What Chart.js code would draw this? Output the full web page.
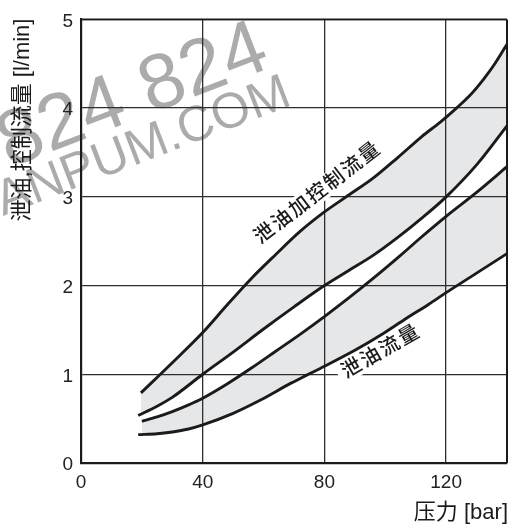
<!DOCTYPE html>
<html>
<head>
<meta charset="utf-8">
<script src="https://cdn.jsdelivr.net/npm/chart.js@4/dist/chart.umd.min.js"></script>
<style>
  html, body { margin: 0; padding: 0; background: #ffffff; }
  #wrap { width: 513px; height: 527px; }
</style>
</head>
<body>
<div id="wrap"><canvas id="chart" width="513" height="527"></canvas></div>
<script>
// Pressure [bar] vs. flow [l/min] for the four boundary curves
const pressureUpper1 = [19.7, 30, 40, 48, 56, 64, 72, 80, 88, 96, 104, 112, 118, 123.4, 128, 132.4, 136, 140];
const flowUpper1     = [0.79, 1.13, 1.47, 1.78, 2.08, 2.35, 2.61, 2.83, 3.02, 3.21, 3.44, 3.68, 3.84, 4.0, 4.15, 4.33, 4.5, 4.72];

const pressureUpper2 = [18.8, 25, 30, 40, 50, 60, 70, 80, 88, 96, 104, 112, 120, 130, 140];
const flowUpper2     = [0.535, 0.64, 0.74, 1.0, 1.25, 1.51, 1.76, 2.0, 2.17, 2.34, 2.54, 2.76, 3.0, 3.36, 3.8];

const pressureLower1 = [20, 25, 30, 35, 40, 48, 56, 64, 72, 80, 88, 96, 105, 112, 120, 130, 140];
const flowLower1     = [0.47, 0.52, 0.58, 0.65, 0.73, 0.89, 1.07, 1.26, 1.45, 1.65, 1.86, 2.08, 2.34, 2.55, 2.78, 3.05, 3.34];

const pressureLower2 = [18.8, 25, 30, 35, 40, 50, 59, 69, 74.2, 80, 90, 98.4, 106, 114.3, 120, 130, 140];
const flowLower2     = [0.32, 0.33, 0.35, 0.38, 0.43, 0.56, 0.71, 0.9, 0.99, 1.09, 1.27, 1.44, 1.61, 1.79, 1.92, 2.14, 2.36];

// Axis ticks
const xTicks = [0, 40, 80, 120];
const yTicks = [0, 1, 2, 3, 4, 5];
const xMax = 140;
const yMax = 5;

// Texts
const yTitle = '泄油,控制流量 [l/min]';
const xTitle = '压力 [bar]';
const bandLabelUpper = '泄油加控制流量';
const bandLabelLower = '泄油流量';
const stampLine1 = '824 824';
const stampLine2 = 'ANPUM.COM';

const toPoints = (xs, ys) => xs.map((x, i) => ({ x: x, y: ys[i] }));

const LATIN = '"Liberation Sans", Arial, sans-serif';
const CJK = '"Liberation Sans", "Noto Sans CJK SC", sans-serif';
const BAND = '#e6e7e9';
const INK = '#1b1b1b';

const lineStyle = {
  borderColor: INK,
  borderWidth: 2.9,
  pointRadius: 0,
  pointHoverRadius: 0,
  cubicInterpolationMode: 'monotone',
  backgroundColor: BAND
};

// Faint stamp text in the upper left
const stampPlugin = {
  id: 'stamp',
  beforeDraw(chart) {
    const ctx = chart.ctx;
    ctx.save();
    ctx.fillStyle = 'rgba(150,150,150,0.8)';
    ctx.textAlign = 'left';
    ctx.textBaseline = 'alphabetic';
    ctx.translate(9, 168);
    ctx.rotate(-21 * Math.PI / 180);
    ctx.font = '78px ' + LATIN;
    ctx.fillText(stampLine1, 0, 0);
    ctx.restore();
    ctx.save();
    ctx.fillStyle = 'rgba(150,150,150,0.8)';
    ctx.textAlign = 'left';
    ctx.textBaseline = 'alphabetic';
    ctx.translate(3, 216);
    ctx.rotate(-21 * Math.PI / 180);
    ctx.font = '50px ' + LATIN;
    ctx.fillText(stampLine2, 0, 0);
    ctx.restore();
  }
};

// Plot frame on the top and right sides
const framePlugin = {
  id: 'frame',
  beforeDatasetsDraw(chart) {
    const { ctx, chartArea: a } = chart;
    ctx.save();
    ctx.strokeStyle = INK;
    ctx.lineWidth = 1.6;
    ctx.beginPath();
    ctx.moveTo(a.left, a.top);
    ctx.lineTo(a.right, a.top);
    ctx.stroke();
    ctx.lineWidth = 2;
    ctx.beginPath();
    ctx.moveTo(a.right, a.top);
    ctx.lineTo(a.right, a.bottom);
    ctx.stroke();
    ctx.restore();
  }
};

// Slanted labels for the two bands, anchored in data units
const bandLabels = [
  { text: bandLabelUpper, x: 77.8, y: 3.05, angle: -37.5 },
  { text: bandLabelLower, x: 98.6, y: 1.26, angle: -30 }
];

const bandLabelPlugin = {
  id: 'bandLabels',
  beforeDatasetsDraw(chart) {
    const ctx = chart.ctx;
    const xs = chart.scales.x, ys = chart.scales.y;
    bandLabels.forEach(l => {
      const px = xs.getPixelForValue(l.x);
      const py = ys.getPixelForValue(l.y);
      ctx.save();
      ctx.translate(px, py);
      ctx.rotate(l.angle * Math.PI / 180);
      ctx.font = '500 20px ' + CJK;
      ctx.letterSpacing = '2px';
      const w = ctx.measureText(l.text).width;
      ctx.fillStyle = '#ffffff';
      ctx.fillRect(-w / 2 - 5, -11, w + 10, 22);
      ctx.fillStyle = INK;
      ctx.textAlign = 'center';
      ctx.textBaseline = 'middle';
      ctx.fillText(l.text, 0, 1);
      ctx.restore();
    });
  }
};

// Axis titles
const titlePlugin = {
  id: 'titles',
  afterDraw(chart) {
    const ctx = chart.ctx;
    ctx.save();
    ctx.fillStyle = INK;
    ctx.font = '22px ' + CJK;
    ctx.translate(23, 120);
    ctx.rotate(-Math.PI / 2);
    ctx.textAlign = 'center';
    ctx.textBaseline = 'middle';
    ctx.fillText(yTitle, 0, 0);
    ctx.restore();

    ctx.save();
    ctx.fillStyle = INK;
    ctx.font = '22px ' + CJK;
    ctx.textAlign = 'right';
    ctx.textBaseline = 'middle';
    ctx.fillText(xTitle, 508, 513);
    ctx.restore();
  }
};

new Chart(document.getElementById('chart'), {
  type: 'line',
  data: {
    datasets: [
      Object.assign({ data: toPoints(pressureUpper1, flowUpper1), fill: '+1' }, lineStyle),
      Object.assign({ data: toPoints(pressureUpper2, flowUpper2), fill: false }, lineStyle),
      Object.assign({ data: toPoints(pressureLower1, flowLower1), fill: '+1' }, lineStyle),
      Object.assign({ data: toPoints(pressureLower2, flowLower2), fill: false }, lineStyle)
    ]
  },
  options: {
    responsive: false,
    animation: false,
    devicePixelRatio: 1,
    layout: { padding: { top: 10, right: 6, left: 0, bottom: 0 } },
    plugins: {
      legend: { display: false },
      tooltip: { enabled: false },
      filler: { drawTime: 'beforeDraw' }
    },
    scales: {
      x: {
        type: 'linear',
        min: 0,
        max: xMax,
        afterBuildTicks: s => { s.ticks = xTicks.map(v => ({ value: v })); },
        afterFit: s => { s.height = 64; },
        grid: { color: '#2e2e2e', lineWidth: 1.3, drawTicks: false },
        border: { display: true, color: INK, width: 2.2 },
        ticks: {
          color: '#222',
          font: { family: LATIN, size: 19 },
          padding: 8,
          maxRotation: 0
        }
      },
      y: {
        type: 'linear',
        min: 0,
        max: yMax,
        afterBuildTicks: s => { s.ticks = yTicks.map(v => ({ value: v })); },
        afterFit: s => { s.width = 81; },
        grid: { color: '#2e2e2e', lineWidth: 1.3, drawTicks: false },
        border: { display: true, color: INK, width: 2.2 },
        ticks: {
          color: '#222',
          font: { family: LATIN, size: 19 },
          padding: 8,
          labelOffset: 2
        }
      }
    }
  },
  plugins: [stampPlugin, framePlugin, bandLabelPlugin, titlePlugin]
});
</script>
</body>
</html>
